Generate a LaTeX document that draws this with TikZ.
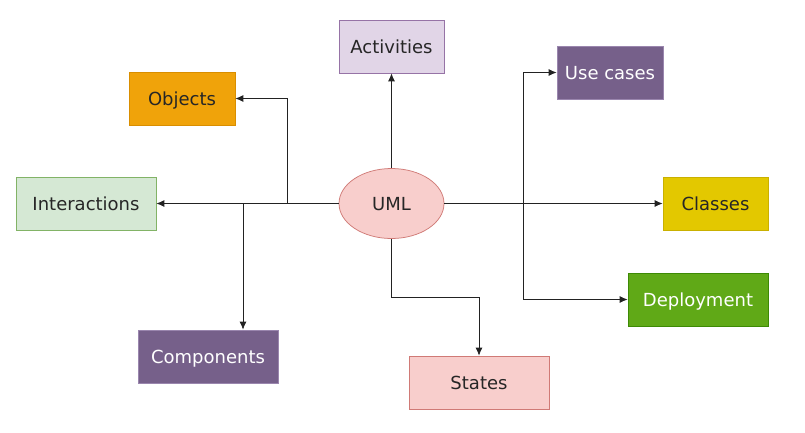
\documentclass[tikz,border=0pt]{standalone}
\usepackage{fontspec}
\setmainfont{DejaVu Sans}
\usetikzlibrary{arrows.meta,shapes.geometric}
\definecolor{actF}{HTML}{E1D5E7}\definecolor{actD}{HTML}{9673A6}
\definecolor{objF}{HTML}{F0A30A}\definecolor{objD}{HTML}{D98E00}
\definecolor{purF}{HTML}{76608A}\definecolor{purD}{HTML}{9A86AE}
\definecolor{intF}{HTML}{D5E8D4}\definecolor{intD}{HTML}{82B366}
\definecolor{redF}{HTML}{F8CECC}\definecolor{redD}{HTML}{D07A76}
\definecolor{claF}{HTML}{E3C800}\definecolor{claD}{HTML}{C9B000}
\definecolor{depF}{HTML}{60A917}\definecolor{depD}{HTML}{3D8A05}
\definecolor{lineC}{HTML}{222222}
\tikzset{
  box/.style={rectangle, draw, line width=0.75pt, minimum height=53pt, inner sep=0pt,
    text height=13.3pt, text depth=0pt,
    font=\fontsize{18}{21}\selectfont, text=black!85},
  conn/.style={draw=lineC, line width=0.8pt, -{Latex[length=8pt,width=7pt]}},
}
\begin{document}
\begin{tikzpicture}[x=1pt,y=-1pt]
\useasboundingbox (0,0) rectangle (805,432);
\node[box, fill=actF, draw=actD, minimum width=105pt] (act) at (391.5,46.5) {Activities};
\node[box, fill=objF, draw=objD, minimum width=106pt] (obj) at (182,98.5) {Objects};
\node[box, fill=purF, draw=purD, minimum width=106pt, text=white] (use) at (610,72.5) {Use cases};
\node[box, fill=intF, draw=intD, minimum width=140pt] (int) at (86,203.5) {Interactions};
\node[ellipse, draw=redD, fill=redF, line width=0.75pt, minimum width=105pt, minimum height=70pt, inner sep=0pt,
  text height=13.3pt, text depth=0pt,
  font=\fontsize{18}{21}\selectfont, text=black!85] (uml) at (391.5,203.5) {UML};
\node[box, fill=claF, draw=claD, minimum width=105pt] (cla) at (715.5,203.5) {Classes};
\node[box, fill=depF, draw=depD, minimum width=140pt, text=white] (dep) at (698,299.5) {Deployment};
\node[box, fill=purF, draw=purD, minimum width=140pt, text=white] (com) at (208,356.5) {Components};
\node[box, fill=redF, draw=redD, minimum width=140pt] (sta) at (479,382.5) {States};

\coordinate (jo) at (287,203.5);
\coordinate (jc) at (243,203.5);
\coordinate (ju) at (523,203.5);
\coordinate (js) at (391.5,297);

\draw[conn] (uml.north) -- (act.south);
\draw[conn] (uml.west) -- (int.east);
\draw[conn] (jo) |- (obj.east);
\draw[conn] (jc) -- (jc |- com.north);
\draw[conn] (uml.east) -- (cla.west);
\draw[conn] (ju) |- (use.west);
\draw[conn] (ju) |- (dep.west);
\draw[conn] (uml.south) -- (js) -| (sta.north);
\end{tikzpicture}
\end{document}
